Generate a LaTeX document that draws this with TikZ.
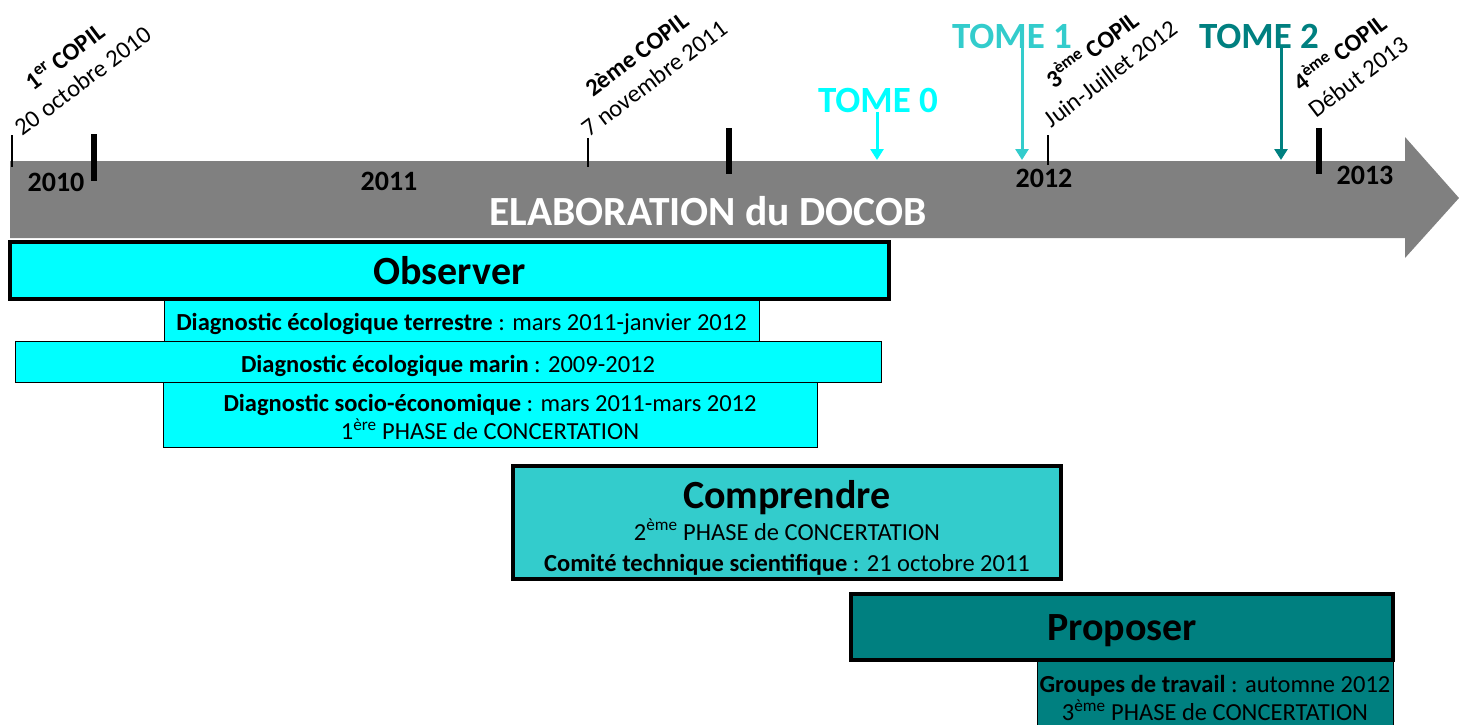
\documentclass[tikz,border=0pt]{standalone}
\usepackage{fontspec}
\setmainfont{Carlito}
\usetikzlibrary{arrows.meta}

\definecolor{obscyan}{HTML}{00FFFF}
\definecolor{compturq}{HTML}{33CCCC}
\definecolor{propteal}{HTML}{008080}
\definecolor{axisgray}{HTML}{808080}

\begin{document}
\begin{tikzpicture}[
        x=1pt, y=-1pt,
        phasebox/.style={draw=black, line width=3.5pt, inner sep=0pt, align=center},
        taskbox/.style={draw=black, line width=1pt, inner sep=0pt, align=center, font=\fontsize{24.5}{28}\selectfont},
        yearlbl/.style={inner sep=0pt, font=\fontsize{28}{30}\selectfont\bfseries},
        copil/.style={rotate=37, anchor=south west, align=center, inner sep=0pt, font=\fontsize{24.5}{30}\selectfont},
        tome/.style={inner sep=0pt, font=\fontsize{37}{40}\selectfont\bfseries},
        tomearrow/.style={line width=3pt, -{Triangle[length=11pt, width=13pt]}},
        bigtitle/.style={font=\fontsize{40}{44}\selectfont\bfseries}
    ]
    \useasboundingbox (0,0) rectangle (1459,724);

    % 1. Frise : fleche grise + annees
    \fill[axisgray] (10,161) -- (1405,161) -- (1405,137) -- (1459,198) -- (1405,258) -- (1405,238) -- (10,238) -- cycle;
    \node[text=white, inner sep=0pt, font=\fontsize{41.5}{44}\selectfont\bfseries] (docob) at (708,211) {ELABORATION du DOCOB};

    \node[yearlbl] (y2010) at (56,182) {2010};
    \node[yearlbl] (y2011) at (389,181) {2011};
    \node[yearlbl] (y2012) at (1044,178) {2012};
    \node[yearlbl] (y2013) at (1365,175) {2013};

    % reperes (fins = COPIL, epais = changement d'annee)
    \draw[line width=2.5pt] (12,135) -- (12,167);
    \draw[line width=2.5pt] (588,138) -- (588,167);
    \draw[line width=2.5pt] (1048,135) -- (1048,165);
    \draw[line width=5.5pt] (94,134) -- (94,181);
    \draw[line width=5.5pt] (729,128) -- (729,174);
    \draw[line width=5.5pt] (1319,128) -- (1319,174);

    % 2. COPIL
    \node[copil] (copil1) at (23,137) {\textbf{1\textsuperscript{er} COPIL}\\20 octobre 2010};
    \node[copil] (copil2) at (590,138) {\textbf{2ème COPIL}\\7 novembre 2011};
    \node[copil] (copil3) at (1052,129) {\textbf{3\textsuperscript{ème} COPIL}\\Juin-Juillet 2012};
    \node[copil] (copil4) at (1317,119) {\textbf{4\textsuperscript{ème} COPIL}\\Début 2013};

    % 3. Tomes
    \node[tome, text=obscyan] (tome0) at (878,100) {TOME 0};
    \node[tome, text=compturq] (tome1) at (1012,36) {TOME 1};
    \node[tome, text=propteal] (tome2) at (1259,36) {TOME 2};
    \coordinate (t0) at (877,160);
    \coordinate (t1) at (1022,160);
    \coordinate (t2) at (1281,160);
    \draw[tomearrow, obscyan] (tome0.south -| t0) -- (t0);
    \draw[tomearrow, compturq] (tome1.south -| t1) -- (t1);
    \draw[tomearrow, propteal] (tome2.south -| t2) -- (t2);

    % 4. Observer
    \node[taskbox, fill=obscyan, minimum width=595pt, minimum height=42pt, text height=21pt, text depth=0pt] (terr) at (461.5,320) {\textbf{Diagnostic écologique terrestre} : mars 2011-janvier 2012};
    \node[taskbox, fill=obscyan, minimum width=866pt, minimum height=41pt, text height=21pt, text depth=0pt] (marin) at (448,361.5) {\textbf{Diagnostic écologique marin} : 2009-2012};
    \node[taskbox, fill=obscyan, minimum width=654pt, minimum height=65pt, text height=50pt, text depth=0pt] (socio) at (490,414.5) {\textbf{Diagnostic socio-économique} : mars 2011-mars 2012\\1\textsuperscript{ère} PHASE de CONCERTATION};
    \node[phasebox, bigtitle, fill=obscyan, minimum width=879pt, minimum height=57pt] (obs) at (449.5,270.5) {Observer};

    % 5. Comprendre
    \node[phasebox, fill=compturq, minimum width=548pt, minimum height=113pt, text height=97pt, text depth=0pt, font=\fontsize{24.5}{31}\selectfont] (comp) at (787,522.5) {{\bfseries\fontsize{40}{44}\selectfont Comprendre}\\[1pt]2\textsuperscript{ème} PHASE de CONCERTATION\\\textbf{Comité technique scientifique} : 21 octobre 2011};

    % 6. Proposer
    \node[taskbox, fill=propteal, minimum width=356pt, minimum height=76pt] (grp) at (1215,698) {\textbf{Groupes de travail} : automne 2012\\3\textsuperscript{ème} PHASE de CONCERTATION};
    \node[phasebox, bigtitle, fill=propteal, minimum width=542pt, minimum height=66pt, text height=27pt, text depth=0pt] (prop) at (1122,627) {Proposer};

\end{tikzpicture}
\end{document}
